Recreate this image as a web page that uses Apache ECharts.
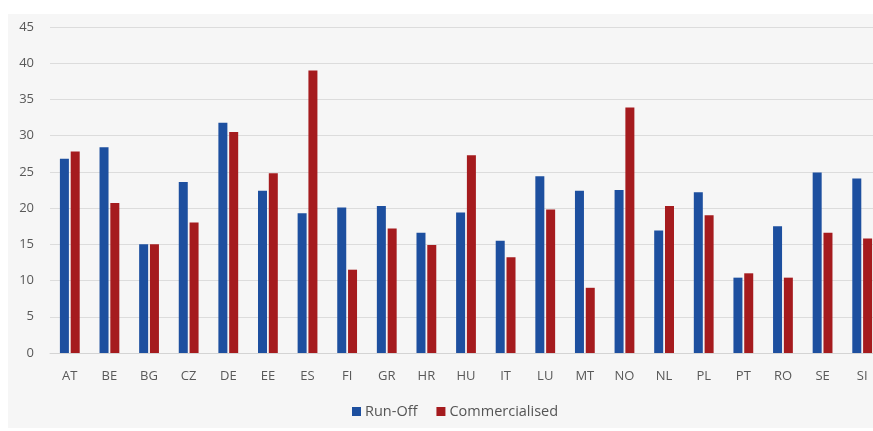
<!DOCTYPE html>
<html>
<head>
<meta charset="utf-8">
<script src="https://cdn.jsdelivr.net/npm/echarts@6/dist/echarts.min.js"></script>
<style>
html,body{margin:0;padding:0;background:#fff;}
#chart{width:873px;height:431px;}
</style>
</head>
<body>
<div id="chart"></div>
<script>
// countries
var countries = ['AT','BE','BG','CZ','DE','EE','ES','FI','GR','HR','HU','IT','LU','MT','NO','NL','PL','PT','RO','SE','SI'];
// series values
var runOff = [26.8,28.4,15.0,23.6,31.8,22.4,19.3,20.1,20.3,16.6,19.4,15.5,24.4,22.4,22.5,16.9,22.2,10.4,17.5,24.9,24.1];
var commercialised = [27.8,20.7,15.0,18.0,30.5,24.8,39.0,11.5,17.2,14.9,27.3,13.2,19.8,9.0,33.9,20.3,19.0,11.0,10.4,16.6,15.8];

var chart = echarts.init(document.getElementById('chart'));

var option = {
    backgroundColor: '#fff',
    animation: false,
    textStyle: {fontFamily: 'Open Sans'},
    graphic: [
        {
            type: 'rect',
            left: 8, top: 14,
            shape: {width: 870, height: 414},
            style: {fill: '#f6f6f6'},
            z: -10, silent: true
        }
    ],
    // plot runs past the right edge, like the cropped original
    grid: {left: 50, top: 27, width: 832, height: 326, outerBoundsMode: 'none'},
    legend: {
        data: ['Run-Off', 'Commercialised'],
        left: 352,
        top: 404,
        padding: 0,
        itemWidth: 9,
        itemHeight: 9,
        itemGap: 19,
        icon: 'rect',
        textStyle: {color: '#555', fontSize: 14.5, padding: [0, 0, 0, -1]}
    },
    xAxis: {
        type: 'category',
        data: countries,
        axisTick: {show: false},
        axisLine: {lineStyle: {color: '#d4d4d4'}},
        axisLabel: {color: '#595959', fontSize: 13, margin: 17}
    },
    yAxis: {
        type: 'value',
        min: 0, max: 45, interval: 5,
        axisLine: {show: false},
        axisTick: {show: false},
        axisLabel: {color: '#595959', fontSize: 13, margin: 16},
        splitLine: {lineStyle: {color: '#dcdcdc'}}
    },
    series: [
        {
            name: 'Run-Off',
            type: 'bar',
            data: runOff,
            barWidth: 9,
            barGap: '20%',
            itemStyle: {color: '#1d4f9f'}
        },
        {
            name: 'Commercialised',
            type: 'bar',
            data: commercialised,
            barWidth: 9,
            barGap: '20%',
            itemStyle: {color: '#a51b1e'}
        }
    ]
};

chart.setOption(option);
</script>
</body>
</html>
